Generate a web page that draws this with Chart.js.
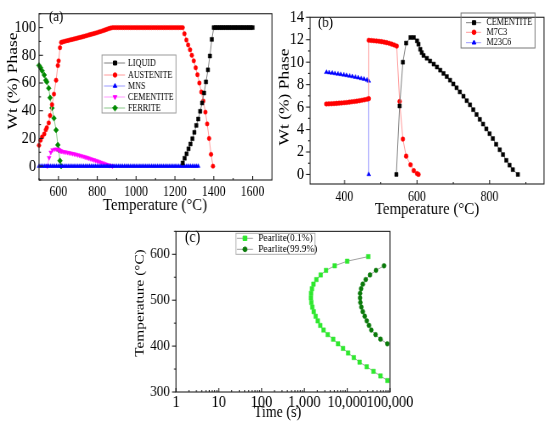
<!DOCTYPE html>
<html>
<head>
<meta charset="utf-8">
<title>Phase fractions and pearlite TTT</title>
<script src="https://cdn.jsdelivr.net/npm/chart.js@4.4.1/dist/chart.umd.min.js"></script>
<style>
  html, body { margin: 0; padding: 0; background: #fff; }
  #fig { position: relative; width: 550px; height: 432px; overflow: hidden; background: #fff; }
  #fig canvas { position: absolute; }
</style>
</head>
<body>
<div id="fig">
  <canvas id="chC"></canvas>
  <canvas id="chA"></canvas>
  <canvas id="chB"></canvas>
</div>
<script>
// ---------- (a) equilibrium phases, Wt (%) vs temperature (°C)
const liqT = [1240,1250,1260,1270,1280,1290,1300,1310,1320,1330,1340,1350,1360,1370,1380,1390,
  1400,1410,1420,1430,1440,1450,1460,1470,1480,1490,1500,1510,1520,1530,1540,1550,1560,1570,1580,1590,1600];
const liqWt = [2.3,5.7,8.9,12.5,16,19.8,24.4,29.4,34,39.6,45.6,52.8,60.8,69.5,79.5,91.5,
  100,100,100,100,100,100,100,100,100,100,100,100,100,100,100,100,100,100,100,100,100];

const austT = [500,508,516,527,535,540,550,557,567,577,588,597,601,608,614,
  620,630,640,650,660,670,680,690,700,710,720,730,740,750,760,770,780,790,800,810,820,830,840,850,860,870,880,
  890,900,910,920,930,940,950,960,970,980,990,1000,1010,1020,1030,1040,1050,1060,1070,1080,1090,1100,
  1110,1120,1130,1140,1150,1160,1170,1180,1190,1200,1210,1220,1230,1240,
  1249,1259,1268,1278,1287,1297,1307,1316,1326,1336,1346,1357,1366,1376,1386,1396];
const austWt = [15,18.7,21,23.2,26.2,27.8,31.2,36.5,44.4,52,62,72.6,76,85.5,89.3,
  89.6,90,90.4,90.7,91.1,91.4,91.8,92.1,92.5,92.9,93.2,93.6,94,94.4,94.8,95.2,95.6,96,96.4,96.9,97.3,97.8,98.3,98.8,99.3,99.7,100,
  100,100,100,100,100,100,100,100,100,100,100,100,100,100,100,100,100,100,
  100,100,100,100,100,100,100,100,100,100,100,100,100,100,100,100,100,100,
  95.5,91,87.5,84,80,76,71,66,60,53.5,47,39,30.5,20,8.5,0];

const mnsT = [500,510,520,530,540,550,560,570,580,590,600,610,620,630,640,650,660,670,680,690,
  700,710,720,730,740,750,760,770,780,790,800,810,820,830,840,850,860,870,880,890,
  900,910,920,930,940,950,960,970,980,990,1000,1010,1020,1030,1040,1050,1060,1070,1080,1090,
  1100,1110,1120,1130,1140,1150,1160,1170,1180,1190,1200,1210,1220,1230,1240,1250,1260,1270,1280,1290,
  1300,1310,1320];
const mnsWt = [0,0,0,0,0,0,0,0,0,0,0,0,0,0,0,0,0,0,0,0,
  0,0,0,0,0,0,0,0,0,0,0,0,0,0,0,0,0,0,0,0,
  0,0,0,0,0,0,0,0,0,0,0,0,0,0,0,0,0,0,0,0,
  0,0,0,0,0,0,0,0,0,0,0,0,0,0,0,0,0,0,0,0,
  0,0,0];

const ferT = [500,508,516,527,535,540,550,557,567,577,588,597,601,608,614];
const ferWt = [72.7,71.1,68.8,65.8,62,60.8,56.3,49.4,42,34.6,26,15.3,11.8,3.9,0];

// cementite is the same curve in (a) and (b)
const cemT = [543,552,561,570,582,591,600,604,609,613,618,627,636,646,655,664,673,682,691,700,
  709,718,728,737,746,755,764,773,782,791,800,809,818,828,837,846,855,864,878];
const cemWt = [0,6.1,10,11.7,12.2,12.2,11.9,11.6,11.15,10.85,10.6,10.35,10.1,9.83,9.57,9.29,9,8.72,8.4,8.06,
  7.72,7.35,6.97,6.57,6.2,5.77,5.34,4.91,4.49,4.06,3.63,3.2,2.69,2.2,1.77,1.26,0.83,0.43,0];

// ---------- (b) carbides
const m7T = [350,357,364,371,378,385,392,399,406,413,420,427,434,441,448,455,462,467,
  467,474,481,488,495,502,509,516,523,530,537,544,
  552,561,570,582,591,600,604];
const m7Wt = [6.28,6.29,6.3,6.31,6.33,6.35,6.37,6.39,6.41,6.44,6.47,6.5,6.53,6.57,6.61,6.65,6.7,6.75,
  11.95,11.93,11.91,11.89,11.86,11.83,11.79,11.74,11.68,11.61,11.53,11.43,
  6.5,3.15,1.63,0.86,0.34,0.08,0];
const m23T = [350,358,366,374,382,390,398,406,414,422,430,438,446,454,462,467,467];
const m23Wt = [9.1,9.07,9.03,8.99,8.95,8.91,8.87,8.82,8.77,8.72,8.67,8.61,8.55,8.49,8.42,8.33,0];

// ---------- (c) pearlite start / finish, time (s) vs temperature (°C)
const pear01T = [595,585,575,565,555,545,535,525,515,505,495,485,475,465,455,445,435,425,415,405,395,385,375,365,355,345,335,325];
const pear01s = [31000,10000,5100,3200,2400,1900,1630,1500,1430,1420,1450,1530,1650,1830,2050,2350,2800,3500,4700,6100,
  8000,10500,14300,19500,28500,41000,60000,87000];
const pear999T = [575,565,555,545,535,525,515,505,495,485,475,465,455,445,435,425,415,405];
const pear999s = [72400,47100,34100,27100,23100,21100,20000,20000,20300,21400,23100,25700,28600,32300,36600,46000,60000,86500];

// ---------- ticks
const aXTicks = [600,800,1000,1200,1400,1600], aXMinor = [500,700,900,1100,1300,1500,1700];
const aYTicks = [0,20,40,60,80,100], aYMinor = [-10,10,30,50,70,90,110];
const bXTicks = [400,600,800], bXMinor = [500,700,900];
const bYTicks = [0,2,4,6,8,10,12,14], bYMinor = [1,3,5,7,9,11,13];
const cXTicks = [1,10,100,1000,10000,100000];
const cYTicks = [300,400,500,600], cYMinor = [350,450,550,650];
const cXMinor = [];
cXTicks.slice(0, -1).forEach(d => { for (let m = 2; m <= 9; m++) cXMinor.push(d * m); });

const SERIF = '"Liberation Serif", "Times New Roman", serif';
const SQUEEZE = 0.85;   // the source figure is narrower than its text

// frame, ticks, axis titles, panel tag and legend box
const decor = {
  id: 'decor',
  afterDraw(chart, args, o) {
    const { ctx, chartArea: a, scales: { x, y } } = chart;
    const k = o.kx;
    ctx.save();
    ctx.strokeStyle = '#222';
    ctx.lineWidth = 1.1;
    ctx.strokeRect(a.left, a.top, a.right - a.left, a.bottom - a.top);

    // dir: 1 = into the plot, -1 = out of it
    const xt = (vals, len) => vals.forEach(v => {
      const p = x.getPixelForValue(v);
      if (p < a.left - 0.5 || p > a.right + 0.5) return;
      ctx.beginPath(); ctx.moveTo(p, a.bottom); ctx.lineTo(p, a.bottom - len * o.xDir); ctx.stroke();
    });
    const yt = (vals, len) => vals.forEach(v => {
      const p = y.getPixelForValue(v);
      if (p < a.top - 0.5 || p > a.bottom + 0.5) return;
      ctx.beginPath(); ctx.moveTo(a.left, p); ctx.lineTo(a.left + len * k * o.yDir, p); ctx.stroke();
    });
    xt(o.xMajor, 4); xt(o.xMinor, 2);
    yt(o.yMajor, 4); yt(o.yMinor, 2);

    ctx.fillStyle = '#000';
    ctx.textAlign = 'center';
    ctx.textBaseline = 'middle';
    ctx.font = o.xTitle.size + 'px ' + SERIF;
    ctx.fillText(o.xTitle.text, o.xTitle.x * k, o.xTitle.y);
    ctx.save();
    ctx.translate(o.yTitle.x * k, o.yTitle.y);
    ctx.rotate(-Math.PI / 2);
    ctx.font = o.yTitle.size + 'px ' + SERIF;
    ctx.fillText(o.yTitle.text, 0, 0);
    ctx.restore();

    ctx.textAlign = 'left';
    ctx.font = o.tag.size + 'px ' + SERIF;
    ctx.fillText(o.tag.text, o.tag.x * k, o.tag.y);

    const L = o.legend;
    ctx.strokeStyle = L.border;
    ctx.lineWidth = 1;
    ctx.strokeRect(L.box[0] * k, L.box[1], (L.box[2] - L.box[0]) * k, L.box[3] - L.box[1]);
    ctx.font = L.size + 'px ' + SERIF;
    L.rows.forEach((ry, i) => {
      const ds = chart.data.datasets[i];
      ctx.strokeStyle = ds.borderColor;
      ctx.lineWidth = 1;
      ctx.beginPath(); ctx.moveTo(L.line[0] * k, ry); ctx.lineTo(L.line[1] * k, ry); ctx.stroke();
      ctx.fillStyle = ds.pointBackgroundColor;
      ctx.strokeStyle = ds.pointBorderColor;
      Chart.helpers.drawPoint(ctx, {
        pointStyle: ds.pointStyle, rotation: ds.pointRotation || 0,
        radius: ds.pointRadius, borderWidth: ds.pointBorderWidth
      }, L.mark * k, ry);
      ctx.fillStyle = '#000';
      ctx.fillText(ds.label, L.text * k, ry);
    });
    ctx.restore();
  }
};

function series(label, xs, ys, marker, color, line, r, rot) {
  return {
    label,
    data: xs.map((v, i) => ({ x: v, y: ys[i] })),
    showLine: true,
    borderColor: line,
    borderWidth: 1,
    pointStyle: marker,
    pointRadius: r,
    pointHoverRadius: r,
    pointRotation: rot || 0,
    pointBackgroundColor: color,
    pointBorderColor: color,
    pointBorderWidth: 0.5,
    clip: false
  };
}

function axis(type, min, max, ticks, fontSize, pad, fit, fmt) {
  return {
    type, min, max,
    grid: { display: false, drawTicks: false },
    border: { display: false },
    ticks: {
      autoSkip: false, maxRotation: 0, padding: pad, color: '#000',
      font: { family: SERIF, size: fontSize },
      callback: fmt || (v => String(v))
    },
    afterBuildTicks: s => { s.ticks = ticks.map(v => ({ value: v })); },
    afterFit: fit
  };
}

// box: css left, top, width, height; plot: css left, top, right, bottom inside the box
function panel(id, box, plot, spec) {
  const cv = document.getElementById(id);
  const [left, top, w, h] = box;
  cv.width = Math.round(w / SQUEEZE);
  cv.height = h;
  cv.style.left = left + 'px';
  cv.style.top = top + 'px';
  cv.style.width = w + 'px';
  cv.style.height = h + 'px';
  const kx = cv.width / w;
  spec.decor.kx = kx;
  return new Chart(cv, {
    type: 'scatter',
    data: { datasets: spec.datasets },
    options: {
      responsive: false,
      animation: false,
      devicePixelRatio: 1,
      events: [],
      layout: { padding: { left: 0, top: plot[1], right: (w - plot[2]) * kx, bottom: 0 } },
      scales: {
        x: axis(spec.x.type, spec.x.min, spec.x.max, spec.x.ticks, spec.x.font, spec.x.pad,
          s => { s.height = h - plot[3]; }, spec.x.fmt),
        y: axis('linear', spec.y.min, spec.y.max, spec.y.ticks, spec.y.font, spec.y.pad * kx,
          s => { s.width = plot[0] * kx; })
      },
      plugins: { legend: { display: false }, tooltip: { enabled: false }, decor: spec.decor }
    },
    plugins: [decor]
  });
}

panel('chA', [0, 0, 275, 215], [39, 5, 272, 180], {
  datasets: [
    series('LIQUID', liqT, liqWt, 'rect', '#000000', '#808080', 2.8),
    series('AUSTENITE', austT, austWt, 'circle', '#ff0000', '#ff9a9a', 2.2),
    series('MNS', mnsT, mnsWt, 'triangle', '#0000ff', '#9a9aff', 2.5),
    series('CEMENTITE', cemT, cemWt, 'triangle', '#ff00ff', '#ff9aff', 2.6, 180),
    series('FERRITE', ferT, ferWt, 'rectRot', '#008a00', '#8ac88a', 2.9)
  ],
  x: { type: 'linear', min: 500, max: 1700, ticks: aXTicks, font: 14, pad: 4 },
  y: { min: -10, max: 110, ticks: aYTicks, font: 17, pad: 3 },
  decor: {
    xDir: 1, yDir: 1,
    xMajor: aXTicks, xMinor: aXMinor, yMajor: aYTicks, yMinor: aYMinor,
    xTitle: { text: 'Temperature (\u00B0C)', x: 155, y: 205, size: 17.5 },
    yTitle: { text: 'Wt (%) Phase', x: 13, y: 81, size: 17.5 },
    tag: { text: '(a)', x: 49, y: 17, size: 15 },
    legend: { box: [102, 55, 176, 113], rows: [63, 75, 86, 97, 108], line: [104, 125], mark: 115, text: 128, size: 9.5, border: '#999' }
  }
});

panel('chB', [275, 0, 275, 218], [35, 11, 269, 184], {
  datasets: [
    series('CEMENTITE', cemT, cemWt, 'rect', '#000000', '#808080', 2.8),
    series('M7C3', m7T, m7Wt, 'circle', '#ff0000', '#ff9a9a', 2.3),
    series('M23C6', m23T, m23Wt, 'triangle', '#0000ff', '#9a9aff', 2.6)
  ],
  x: { type: 'linear', min: 305, max: 950, ticks: bXTicks, font: 14, pad: 5 },
  y: { min: -0.85, max: 14, ticks: bYTicks, font: 17, pad: 6 },
  decor: {
    xDir: 1, yDir: -1,
    xMajor: bXTicks, xMinor: bXMinor, yMajor: bYTicks, yMinor: bYMinor,
    xTitle: { text: 'Temperature (\u00B0C)', x: 152, y: 209, size: 17.5 },
    yTitle: { text: 'Wt (%) Phase', x: 10, y: 97, size: 17.5 },
    tag: { text: '(b)', x: 43, y: 23, size: 15 },
    legend: { box: [186, 13, 260, 48], rows: [22.7, 32.3, 42.7], line: [191, 206], mark: 199, text: 211.5, size: 9.5, border: '#777' }
  }
});

panel('chC', [130, 215, 300, 217], [46, 4, 260, 177], {
  datasets: [
    series('Pearlite(0.1%)', pear01s, pear01T, 'rect', '#2ee82e', '#a0a0a0', 3.1),
    series('Pearlite(99.9%)', pear999s, pear999T, 'circle', '#0b7a0b', '#a0a0a0', 2.4)
  ],
  x: { type: 'logarithmic', min: 1, max: 100000, ticks: cXTicks, font: 17, pad: 0,
       fmt: v => Number(v).toLocaleString('en-US') },
  y: { min: 300, max: 650, ticks: cYTicks, font: 15.5, pad: 6 },
  decor: {
    xDir: 1, yDir: -1,
    xMajor: cXTicks, xMinor: cXMinor, yMajor: cYTicks, yMinor: cYMinor,
    xTitle: { text: 'Time (s)', x: 147.5, y: 198, size: 16.5 },
    yTitle: { text: 'Temperature (\u00B0C)', x: 10, y: 88, size: 15.3 },
    tag: { text: '(c)', x: 55, y: 23, size: 16 },
    legend: { box: [106, 18.3, 185, 39.3], rows: [23.3, 34.3], line: [107, 123], mark: 115, text: 128.3, size: 11, border: '#aaa' }
  }
});
</script>
</body>
</html>
